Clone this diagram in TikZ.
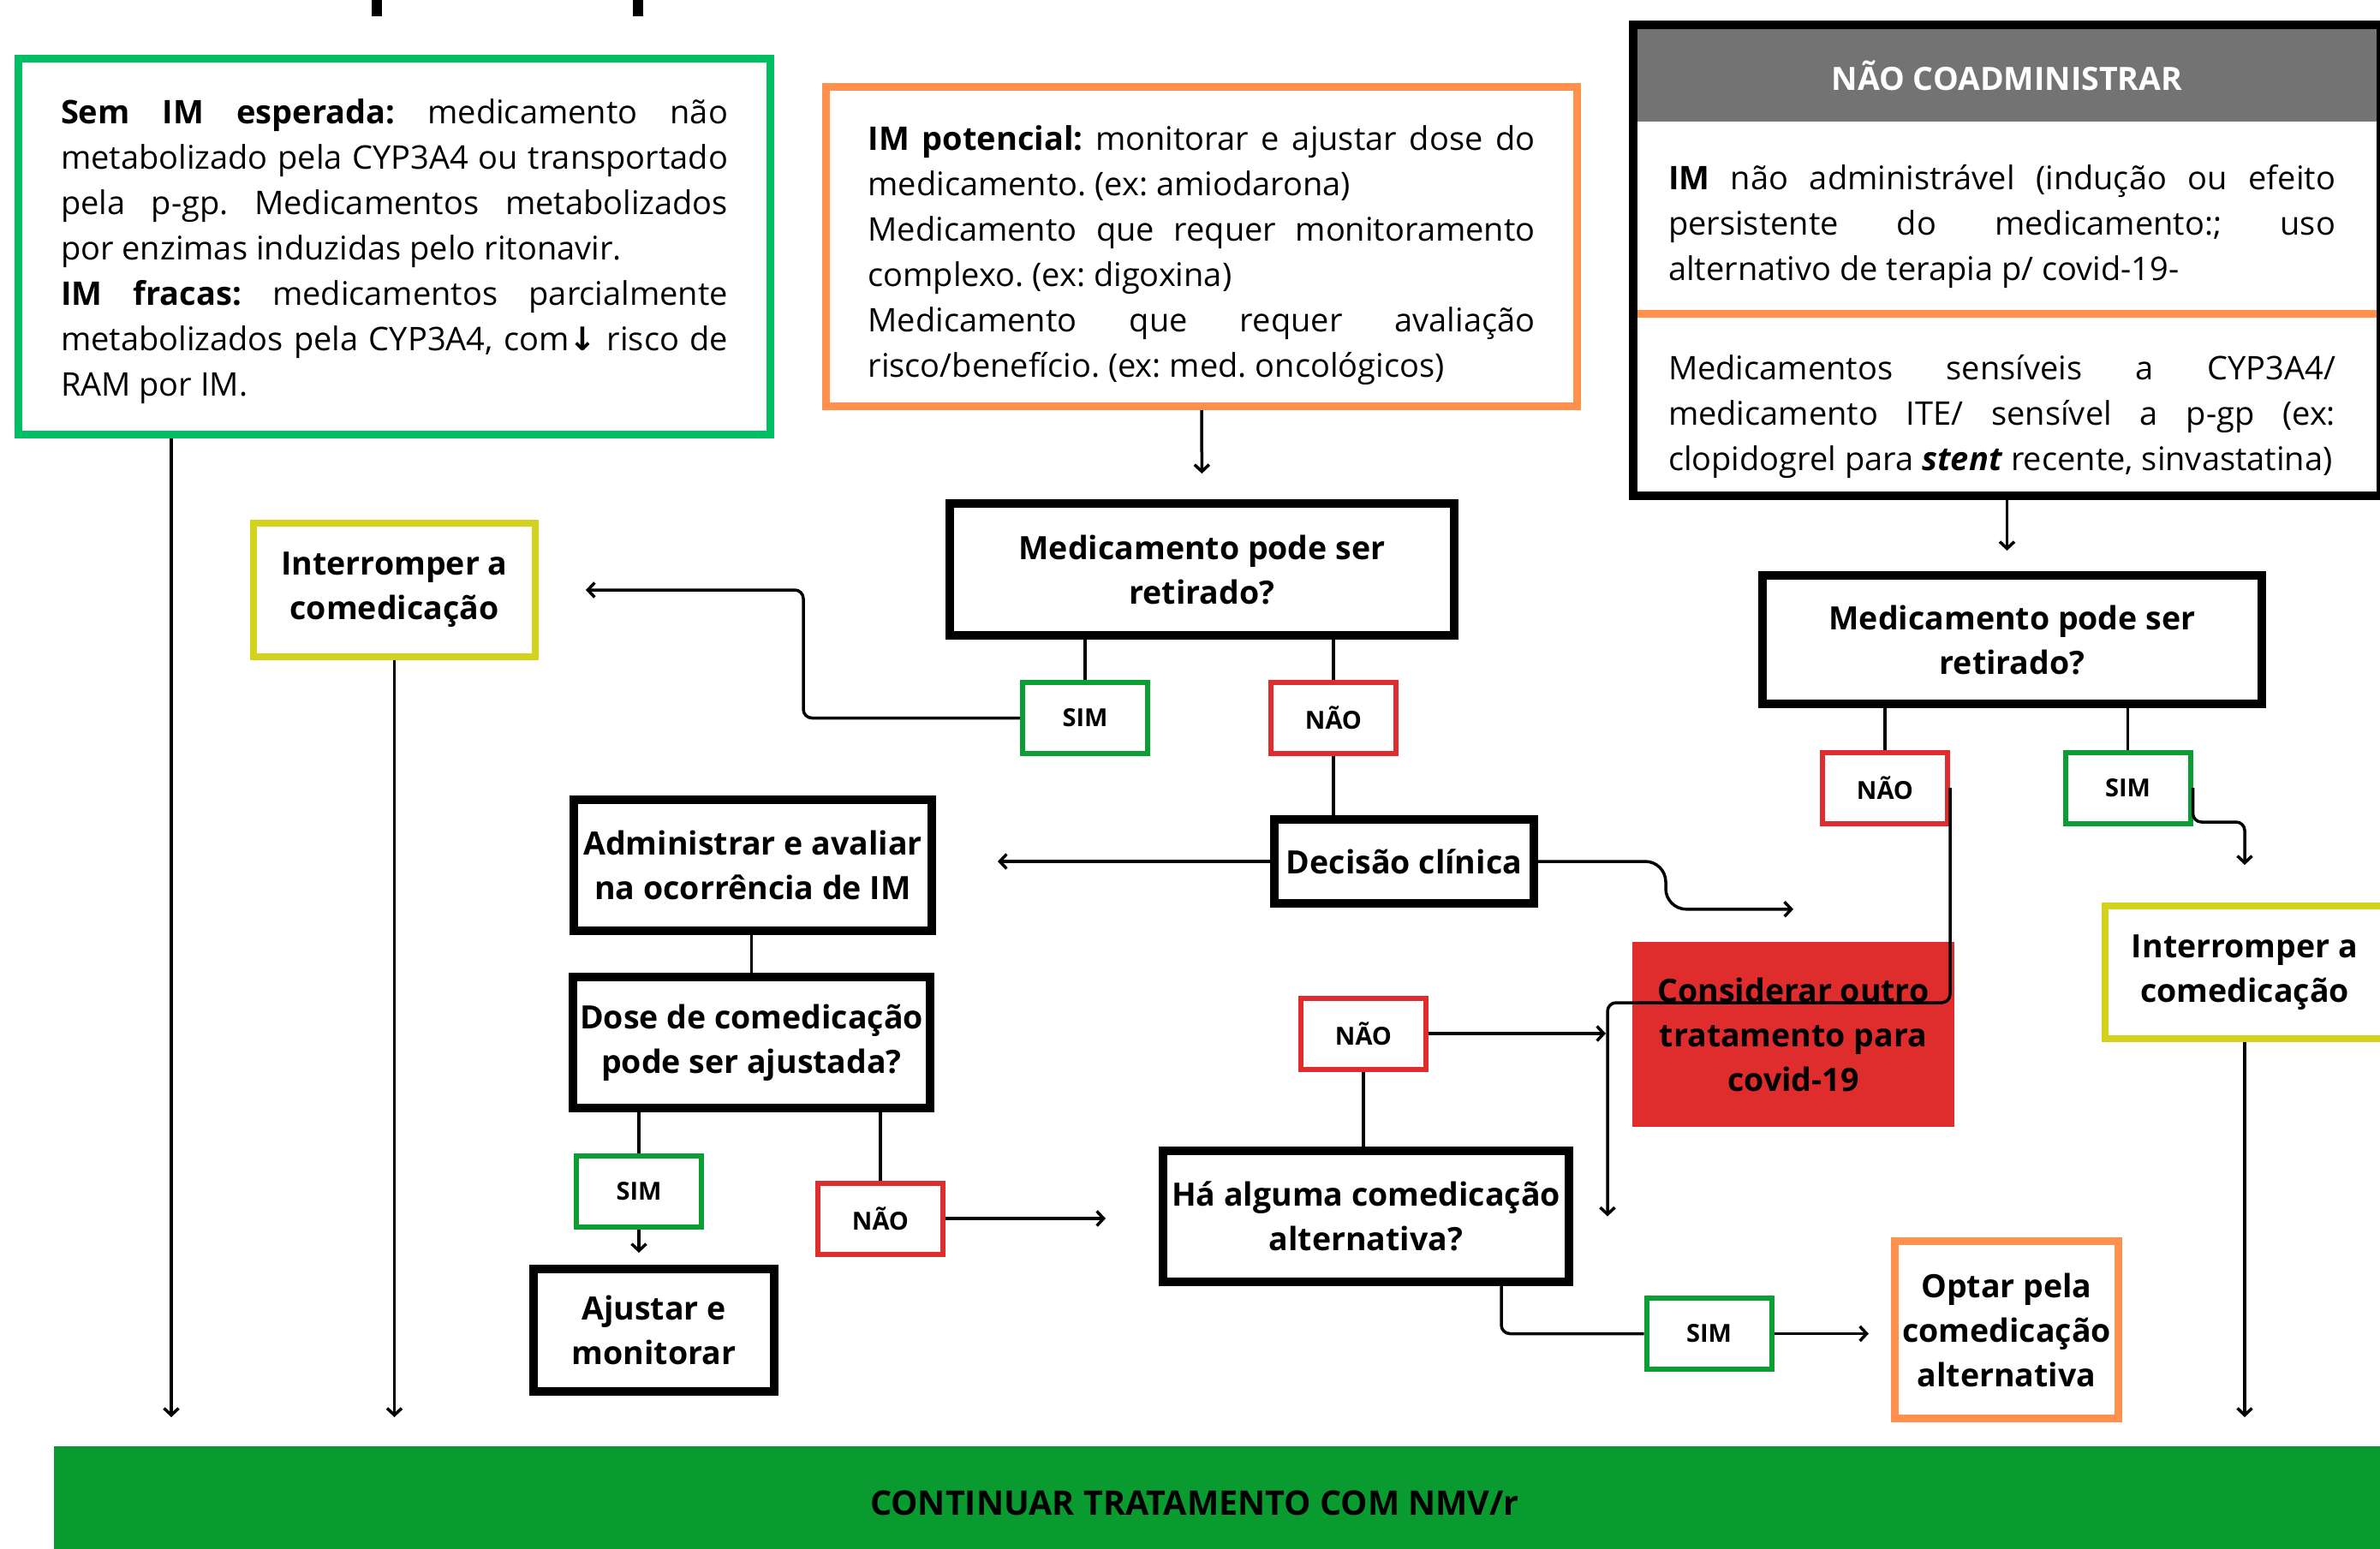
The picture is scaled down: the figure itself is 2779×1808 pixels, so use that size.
\documentclass[tikz,border=0pt]{standalone}
\usepackage{fontspec}
\setmainfont{Open Sans}
\newfontfamily\symfont{DejaVu Sans}
\usetikzlibrary{arrows.meta,positioning,calc}
\definecolor{boxgreen}{HTML}{00BF63}
\definecolor{boxorange}{HTML}{FF914D}
\definecolor{headgray}{HTML}{737373}
\definecolor{nored}{HTML}{DF2D2D}
\definecolor{yesgreen}{HTML}{0B9E33}
\definecolor{bargreen}{HTML}{099B30}
\definecolor{stopyellow}{HTML}{D3D21D}
\newcommand\bodyfont{\fontsize{38}{53}\selectfont\frenchspacing\tolerance=10000\hyphenpenalty=10000\exhyphenpenalty=10000}
\newcommand\stepfont{\fontsize{37.5}{52}\selectfont\bfseries}
\newcommand\tagfont{\fontsize{29}{35}\selectfont\bfseries}
\begin{document}
\begin{tikzpicture}[x=1pt, y=-1pt, >={Straight Barb[length=8pt,width=17pt]},
  infobox/.style={draw, line width=9pt, text width=779pt, align=justify, font=\bodyfont},
  stepbox/.style={draw, line width=10pt, align=center, inner xsep=4pt, font=\stepfont},
  stopbox/.style={draw=stopyellow, line width=8pt, align=center, inner xsep=4pt, font=\stepfont, minimum height=156pt},
  tagbox/.style={draw, line width=6pt, minimum width=146pt, minimum height=83pt, font=\tagfont},
  simtag/.style={tagbox, draw=yesgreen},
  naotag/.style={tagbox, draw=nored},
  wire/.style={line width=3.5pt},
  arrowwire/.style={->, line width=3.5pt, rounded corners=10pt}]
\useasboundingbox (0,0) rectangle (2779,1808);
\clip (0,0) rectangle (2779,1808);
\fill[white] (0,0) rectangle (2779,1808);
\fill (434,0) rectangle (446,19);
\fill (739,0) rectangle (751,19);

\node (semim) [infobox, draw=boxgreen, minimum width=878pt, minimum height=439pt] at (460.5,288) {\leftskip=-9pt\rightskip=9pt\rule{0pt}{40pt}\textbf{Sem IM esperada:} medicamento não\linebreak metabolizado pela CYP3A4 ou transportado\linebreak pela p-gp. Medicamentos metabolizados\linebreak por enzimas induzidas pelo ritonavir.\\ \textbf{IM fracas:} medicamentos parcialmente\linebreak metabolizados pela CYP3A4, com{\symfont\bfseries↓} risco de\linebreak RAM por IM.};
\node (potencial) [infobox, draw=boxorange, minimum width=877pt, minimum height=373pt] at (1403,288) {\leftskip=-9pt\rightskip=9pt\rule{0pt}{50pt}\textbf{IM potencial:} monitorar e ajustar dose do\linebreak medicamento. (ex: amiodarona)\\ Medicamento que requer monitoramento\linebreak complexo. (ex: digoxina)\\ Medicamento que requer avaliação\linebreak risco/benefício. (ex: med. oncológicos)};

\node (coadhead) [fill=headgray, text=white, font=\stepfont, minimum width=863pt, minimum height=108pt] at (2343.5,88) {NÃO COADMINISTRAR};
\fill[boxorange] (1912,362) rectangle (2775,371);
\node (coadtxtA) [font=\bodyfont, text width=779pt, align=justify] at (2337.5,265) {\textbf{IM} não administrável (indução ou efeito\linebreak persistente do medicamento:; uso\linebreak alternativo de terapia p/ covid-19-};
\node (coadtxtB) [font=\bodyfont, text width=779pt, align=justify] at (2337.5,486) {Medicamentos sensíveis a CYP3A4/\linebreak medicamento ITE/ sensível a p-gp (ex:\linebreak clopidogrel para \textbf{\textit{stent}} recente, sinvastatina)};
\node (naocoad) [draw, line width=10pt, minimum width=873pt, minimum height=550pt] at (2343.5,304) {};

\node (retmid) [stepbox, minimum width=589pt, minimum height=154pt] at (1403.5,665) {Medicamento pode ser\\retirado?};
\node (retdir) [stepbox, minimum width=583pt, minimum height=150pt] at (2349.5,747) {Medicamento pode ser\\retirado?};
\node (simA) [simtag] at (1267,838.5) {SIM};
\node (naoA) [naotag] at (1557,838.5) {NÃO};
\node (stopA) [stopbox, minimum width=329pt] at (460.5,689) {Interromper a\\comedicação};
\node (decisao) [stepbox, minimum width=303pt, minimum height=98pt] at (1639.5,1006) {Decisão clínica};
\node (admin) [stepbox, minimum width=418pt, minimum height=153pt] at (879,1010.5) {Administrar e avaliar\\na ocorrência de IM};
\node (dose) [stepbox, minimum width=417pt, minimum height=153pt] at (877.5,1217.5) {Dose de comedicação\\pode ser ajustada?};
\node (simB) [simtag] at (746,1391.5) {SIM};
\node (naoB) [naotag] at (1028,1423) {NÃO};
\node (ajustar) [stepbox, minimum width=281pt, minimum height=143pt] at (763.5,1553.5) {Ajustar e\\monitorar};
\node (alternativa) [stepbox, minimum width=474pt, minimum height=153pt] at (1595,1420.5) {Há alguma comedicação\\alternativa?};
\node (naoC) [naotag] at (1592,1207) {NÃO};
\node (simC) [simtag] at (1995.5,1557.5) {SIM};
\node (optar) [stepbox, draw=boxorange, line width=9pt, minimum width=261pt, minimum height=207pt] at (2343,1553) {Optar pela\\comedicação\\alternativa};
\node (outro) [fill=nored, font=\stepfont, align=center, minimum width=376pt, minimum height=216pt] at (2094,1208) {Considerar outro\\tratamento para\\covid-19};
\node (naoD) [naotag] at (2201,920) {NÃO};
\node (simD) [simtag] at (2484.5,920) {SIM};
\node (stopB) [stopbox, minimum width=326pt, minimum height=155pt] at (2621,1135.5) {Interromper a\\comedicação};
\node (continuar) [fill=bargreen, minimum width=2760pt, minimum height=140pt, anchor=north west] at (63,1689) {};
\node (continuartxt) [font=\fontsize{39.5}{48}\selectfont\bfseries] at (1395,1755) {CONTINUAR TRATAMENTO COM NMV/r};

\coordinate (gdrop) at ([xshift=183pt]semim.south west);
\coordinate (outrotip) at ([yshift=38pt]outro.north);
\coordinate (merge) at (1877,1171);

\draw[arrowwire, shorten >=30pt] (potencial.south) -- (retmid.north);
\draw[arrowwire, shorten >=24pt] (naocoad.south) -- (naocoad.south |- retdir.north);
\draw[wire] (simA.north |- retmid.south) -- (simA.north);
\draw[wire] (naoA.north |- retmid.south) -- (naoA.north);
\draw[arrowwire] (simA.west) -- ++(-253,0) |- ([xshift=55pt]stopA.east);
\draw[wire] (naoA.south) -- (naoA.south |- decisao.north);
\draw[arrowwire, shorten >=72pt] (decisao.west) -- (decisao.west -| admin.east);
\draw[arrowwire, rounded corners=24pt] (decisao.east) -- ++(149,0) |- (outrotip);
\draw[wire] (dose.north |- admin.south) -- (dose.north);
\draw[wire] (simB.north |- dose.south) -- (simB.north);
\draw[wire] (naoB.north |- dose.south) -- (naoB.north);
\draw[arrowwire, shorten >=14pt] (simB.south) -- (simB.south |- ajustar.north);
\draw[arrowwire, shorten >=62pt] (naoB.east) -- (naoB.east -| alternativa.west);
\draw[wire] (naoC.south) -- (naoC.south |- alternativa.north);
\draw[arrowwire] (naoD.east) |- (merge) -- (merge |- alternativa.east);
\draw[arrowwire, shorten >=2pt] (naoC.east) -- (naoC.east -| merge);
\draw[wire, rounded corners=10pt] ([xshift=158pt]alternativa.south) |- (simC.west);
\draw[arrowwire, shorten >=26pt] (simC.east) -- (simC.east -| optar.west);
\draw[wire] (naoD.north |- retdir.south) -- (naoD.north);
\draw[wire] (simD.north |- retdir.south) -- (simD.north);
\draw[arrowwire] (simD.east) -- ++(0,40) -| ([yshift=44pt]stopB.north);
\draw[arrowwire, shorten >=34pt] (gdrop) -- (gdrop |- continuar.north);
\draw[arrowwire, shorten >=34pt] (stopA.south) -- (stopA.south |- continuar.north);
\draw[arrowwire, shorten >=34pt] (stopB.south) -- (stopB.south |- continuar.north);
\end{tikzpicture}
\end{document}
